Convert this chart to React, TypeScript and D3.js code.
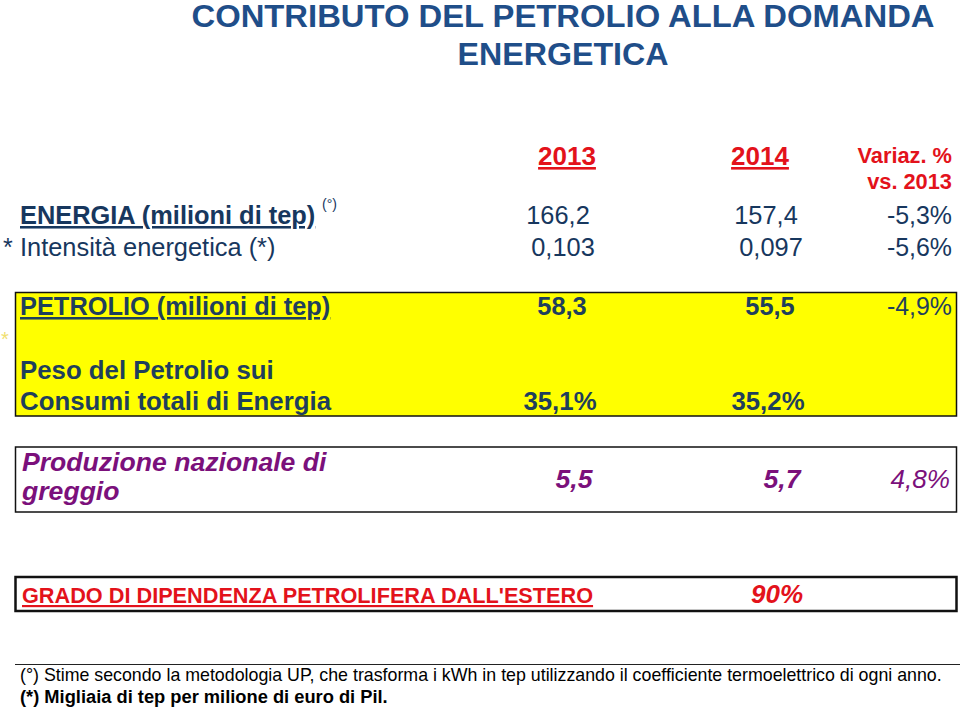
import React from 'react';
import * as d3 from 'd3';

// Oil contribution to energy demand - table style chart

const titleLines = ['CONTRIBUTO DEL PETROLIO ALLA DOMANDA', 'ENERGETICA'];
const years = ['2013', '2014'];
const varHeader = ['Variaz. %', 'vs. 2013'];

const rowLabels = [
  ['ENERGIA (milioni di tep)'],
  ['Intensità energetica (*)'],
  ['PETROLIO (milioni di tep)'],
  ['Peso del Petrolio sui', 'Consumi totali di Energia'],
  ['Produzione nazionale di', 'greggio'],
  ["GRADO DI DIPENDENZA PETROLIFERA DALL'ESTERO"],
];
const values2013 = ['166,2', '0,103', '58,3', '35,1%', '5,5', ''];
const values2014 = ['157,4', '0,097', '55,5', '35,2%', '5,7', '90%'];
const variations = ['-5,3%', '-5,6%', '-4,9%', '', '4,8%', ''];

const footnotes = [
  '(°) Stime secondo la metodologia UP, che trasforma i kWh in tep utilizzando il coefficiente termoelettrico di ogni anno.',
  '(*) Migliaia di tep per milione di euro di Pil.',
];

const FONT = '"Liberation Sans", Arial, Helvetica, sans-serif';
const NARROW = '"Liberation Sans Narrow", "Liberation Sans", Arial, sans-serif';

// visual style of each row (not data)
const rowStyles = [
  { y: 224, lineGap: 0, size: 25.4, labelWeight: 'bold', underline: true, valWeight: 'normal', italic: false, color: '#17375e', valY: 224, dx: -4 },
  { y: 256, lineGap: 0, size: 25.4, labelWeight: 'normal', underline: false, valWeight: 'normal', italic: false, color: '#17375e', valY: 256, dx: 1 },
  { y: 315, lineGap: 0, size: 25.4, labelWeight: 'bold', underline: true, valWeight: 'bold', italic: false, color: '#1f3f5c', valY: 315, dx: 0 },
  { y: 379, lineGap: 31, size: 25.8, labelWeight: 'bold', underline: false, valWeight: 'bold', italic: false, color: '#1f3f5c', valY: 410, dx: -2 },
  { y: 471, lineGap: 29, size: 26.6, labelWeight: 'bold', underline: false, valWeight: 'bold', italic: true, color: '#7b107b', valY: 488, dx: 12 },
  { y: 603, lineGap: 0, size: 21.7, labelWeight: 'bold', underline: true, valWeight: 'bold', italic: true, color: '#e3121b', valY: 603, dx: 7 },
];

const boxes = [
  { y0: 292.5, y1: 416, fill: '#ffff00', sw: 1.5 },
  { y0: 447, y1: 512, fill: '#ffffff', sw: 1.5 },
  { y0: 577, y1: 611, fill: '#ffffff', sw: 2.5 },
];

const App = () => {
  const W = 960;
  const H = 710;

  const colX = d3.scaleOrdinal<string, number>().domain(['label', ...years, 'var']).range([20, 562, 770, 952]);
  const headerX = d3.scaleOrdinal<string, number>().domain(years).range([567, 760]);

  return (
    <svg width={W} height={H} style={{ position: 'absolute', left: 0, top: 0, background: '#fff' }} fontFamily={FONT}>
      {/* title */}
      {titleLines.map((t, i) => (
        <text
          key={t}
          x={563}
          y={27 + i * 38}
          textAnchor="middle"
          fontFamily={NARROW}
          fontWeight="bold"
          fontSize={31.5}
          fill="#1f4e89"
          textLength={i === 0 ? 743 : 211}
          lengthAdjust="spacingAndGlyphs"
        >
          {t}
        </text>
      ))}

      {/* header */}
      {years.map((y) => (
        <text key={y} x={headerX(y)} y={165} textAnchor="middle" fontSize={26} fontWeight="bold" fill="#e3121b" textDecoration="underline">
          {y}
        </text>
      ))}
      {varHeader.map((t, i) => (
        <text key={t} x={colX('var')} y={163 + i * 26} textAnchor="end" fontSize={21.8} fontWeight="bold" fill="#e3121b">
          {t}
        </text>
      ))}

      {/* boxes */}
      {boxes.map((b, i) => (
        <rect key={i} x={15.5} y={b.y0} width={941} height={b.y1 - b.y0} fill={b.fill} stroke="#111" strokeWidth={b.sw} />
      ))}

      {/* asterisks */}
      <text x={3} y={256} fontSize={25} fill="#17375e">*</text>
      <text x={1} y={346} fontSize={20} fill="#f0e070">*</text>
      <text x={322} y={209} fontSize={14} fill="#17375e">(°)</text>

      {/* rows */}
      {rowLabels.map((lines, r) => {
        const s = rowStyles[r];
        const v = [values2013[r], values2014[r]];
        return (
          <g key={r} fill={s.color} fontSize={s.size}>
            {lines.map((l, k) => (
              <text
                key={k}
                x={colX('label') + (s.italic ? 2 : 0)}
                y={s.y + k * s.lineGap}
                fontWeight={s.labelWeight}
                fontStyle={s.italic && r !== 5 ? 'italic' : 'normal'}
                textDecoration={s.underline ? 'underline' : undefined}
              >
                {l}
              </text>
            ))}
            {years.map((y, j) =>
              v[j] ? (
                <text
                  key={y}
                  x={colX(y) + s.dx}
                  y={s.valY}
                  textAnchor="middle"
                  fontWeight={s.valWeight}
                  fontStyle={s.italic ? 'italic' : 'normal'}
                  fontSize={r === 5 ? 26 : s.size}
                >
                  {v[j]}
                </text>
              ) : null
            )}
            {variations[r] ? (
              <text x={colX('var') - (s.italic ? 2 : 0)} y={s.valY} textAnchor="end" fontStyle={s.italic ? 'italic' : 'normal'} fontSize={s.size - 0.5}>
                {variations[r]}
              </text>
            ) : null}
          </g>
        );
      })}

      {/* footnotes */}
      <line x1={15} x2={960} y1={664.5} y2={664.5} stroke="#222" strokeWidth={1} />
      {footnotes.map((f, i) => (
        <text key={i} x={20} y={681 + i * 22} fontSize={i === 1 ? 18.3 : 17.8} fontWeight={i === 1 ? 'bold' : 'normal'} fill="#000">
          {f}
        </text>
      ))}
    </svg>
  );
};

export default App;
